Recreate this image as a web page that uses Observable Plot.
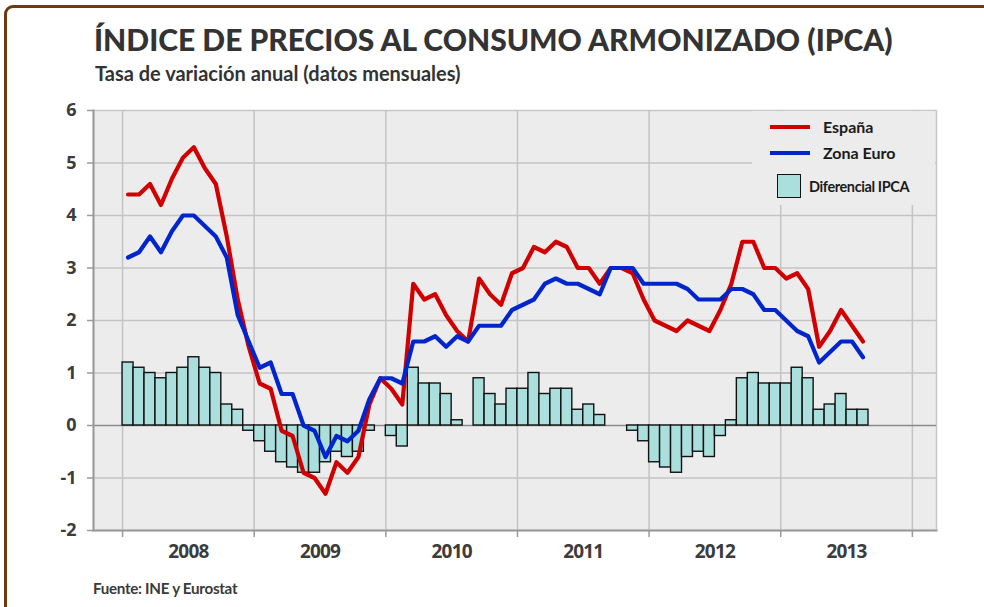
<!DOCTYPE html>
<html>
<head>
<meta charset="utf-8">
<script src="https://cdn.jsdelivr.net/npm/d3@7"></script>
<script src="https://cdn.jsdelivr.net/npm/@observablehq/plot@0.6"></script>
<style>
  html, body { margin: 0; padding: 0; background: #ffffff; }
  #wrap { position: relative; width: 984px; height: 607px; overflow: hidden; font-family: Lato, "DejaVu Sans", sans-serif; color: #333; }
  #wrap svg { position: absolute; left: 0; top: 0; background: transparent; }
  .abs { position: absolute; white-space: nowrap; }
  #border { left: 4px; top: 5px; width: 990px; height: 620px; box-sizing: border-box; border: 3px solid #6e3a0c; border-radius: 9px; }
  #title { left: 94px; top: 21px; font-size: 30px; font-weight: 900; line-height: 36px; color: #333; }
  #subtitle { left: 95px; top: 61px; font-size: 20px; font-weight: 700; line-height: 24px; color: #333; }
  #caption { left: 93px; top: 579px; font-size: 15.2px; font-weight: 700; line-height: 18px; color: #3a3a3a; letter-spacing: -0.3px; }
  #legend { left: 752px; top: 111px; width: 183px; height: 94px; background: #ececec; }
  .lg-line { position: absolute; width: 40px; height: 4px; }
  .lg-text { position: absolute; font-weight: 700; color: #1a1a1a; line-height: 20px; white-space: nowrap; }
  .lg-sw { position: absolute; width: 22px; height: 22px; background: #aadfdd; border: 1.5px solid #111; }
</style>
</head>
<body>
<div id="wrap">
  <div id="chart"></div>
  <div class="abs" id="border"></div>
  <div class="abs" id="title"></div>
  <div class="abs" id="subtitle"></div>
  <div class="abs" id="caption"></div>
  <div class="abs" id="legend"></div>
</div>
<script>
// ---- Data ----
const titleText = "ÍNDICE DE PRECIOS AL CONSUMO ARMONIZADO (IPCA)";
const subtitleText = "Tasa de variación anual (datos mensuales)";
const captionText = "Fuente: INE y Eurostat";
const seriesNames = ["España", "Zona Euro", "Diferencial IPCA"];

const firstMonth = "2008-01";
const yearLabels = ["2008", "2009", "2010", "2011", "2012", "2013"];
const yTicks = [-2, -1, 0, 1, 2, 3, 4, 5, 6];

const espana = [
  4.4, 4.4, 4.6, 4.2, 4.7, 5.1, 5.3, 4.9, 4.6, 3.6, 2.4, 1.5,
  0.8, 0.7, -0.1, -0.2, -0.9, -1.0, -1.3, -0.7, -0.9, -0.6, 0.4, 0.9,
  0.7, 0.4, 2.7, 2.4, 2.5, 2.1, 1.8, 1.6, 2.8, 2.5, 2.3, 2.9,
  3.0, 3.4, 3.3, 3.5, 3.4, 3.0, 3.0, 2.7, 3.0, 3.0, 2.9, 2.4,
  2.0, 1.9, 1.8, 2.0, 1.9, 1.8, 2.2, 2.7, 3.5, 3.5, 3.0, 3.0,
  2.8, 2.9, 2.6, 1.5, 1.8, 2.2, 1.9, 1.6
];
const zonaEuro = [
  3.2, 3.3, 3.6, 3.3, 3.7, 4.0, 4.0, 3.8, 3.6, 3.2, 2.1, 1.6,
  1.1, 1.2, 0.6, 0.6, 0.0, -0.1, -0.6, -0.2, -0.3, -0.1, 0.5, 0.9,
  0.9, 0.8, 1.6, 1.6, 1.7, 1.5, 1.7, 1.6, 1.9, 1.9, 1.9, 2.2,
  2.3, 2.4, 2.7, 2.8, 2.7, 2.7, 2.6, 2.5, 3.0, 3.0, 3.0, 2.7,
  2.7, 2.7, 2.7, 2.6, 2.4, 2.4, 2.4, 2.6, 2.6, 2.5, 2.2, 2.2,
  2.0, 1.8, 1.7, 1.2, 1.4, 1.6, 1.6, 1.3
];
const diferencial = [
  1.2, 1.1, 1.0, 0.9, 1.0, 1.1, 1.3, 1.1, 1.0, 0.4, 0.3, -0.1,
  -0.3, -0.5, -0.7, -0.8, -0.9, -0.9, -0.7, -0.5, -0.6, -0.5, -0.1, 0.0,
  -0.2, -0.4, 1.1, 0.8, 0.8, 0.6, 0.1, 0.0, 0.9, 0.6, 0.4, 0.7,
  0.7, 1.0, 0.6, 0.7, 0.7, 0.3, 0.4, 0.2, 0.0, 0.0, -0.1, -0.3,
  -0.7, -0.8, -0.9, -0.6, -0.5, -0.6, -0.2, 0.1, 0.9, 1.0, 0.8, 0.8,
  0.8, 1.1, 0.9, 0.3, 0.4, 0.6, 0.3, 0.3
];

// ---- Derived tables ----
const rows = espana.map((v, i) => ({i, esp: v, eur: zonaEuro[i], dif: diferencial[i]}));
const yearStarts = d3.range(yearLabels.length + 1).map(k => k * 12);
const yearCenters = yearLabels.map((_, k) => k * 12 + 6);

const colors = {esp: "#d10000", eur: "#0025cc", bar: "#aadfdd", grid: "#c4c4c4", axis: "#9a9a9a", bg: "#ececec"};

const chart = Plot.plot({
  width: 984,
  height: 607,
  marginLeft: 93,
  marginRight: 48,
  marginTop: 110,
  marginBottom: 77,
  style: {background: "transparent", overflow: "visible"},
  x: {type: "linear", domain: [-2.65, 74.2]},
  y: {domain: [-2, 6]},
  marks: [
    Plot.frame({fill: colors.bg, stroke: "#c8c8c8", strokeWidth: 1.5}),
    Plot.ruleY(yTicks.filter(d => d > -2 && d < 6 && d !== 0), {stroke: colors.grid, strokeWidth: 1.5}),
    Plot.ruleX(yearStarts, {stroke: colors.grid, strokeWidth: 1.5}),
    Plot.ruleY([0], {stroke: "#8a8a8a", strokeWidth: 1.5}),
    Plot.rect(rows.filter(d => d.dif !== 0), {
      x1: d => d.i, x2: d => d.i + 1, y1: 0, y2: "dif",
      fill: colors.bar, stroke: "#111", strokeWidth: 1.4
    }),
    Plot.line(rows, {x: d => d.i + 0.5, y: "esp", stroke: colors.esp, strokeWidth: 4.2, strokeLinejoin: "round"}),
    Plot.line(rows, {x: d => d.i + 0.5, y: "eur", stroke: colors.eur, strokeWidth: 4.2, strokeLinejoin: "round"}),
    Plot.frame({anchor: "left", stroke: colors.axis, strokeWidth: 2}),
    Plot.frame({anchor: "bottom", stroke: colors.axis, strokeWidth: 2}),
    Plot.axisY({ticks: yTicks, tickSize: 6, tickPadding: 11, tickFormat: d => String(d),
      fontSize: 18, fontWeight: 700, fill: "#3c3c3c", stroke: colors.axis, strokeWidth: 1.5, label: null}),
    Plot.axisX({ticks: yearStarts, tickSize: 7, tickFormat: () => "", stroke: colors.axis, strokeWidth: 1.5, label: null}),
    Plot.axisX({ticks: yearCenters, tickSize: 0, tickPadding: 14,
      tickFormat: d => yearLabels[Math.round((d - 6) / 12)],
      fontSize: 19, fontWeight: 700, fill: "#3c3c3c", label: null})
  ]
});
document.getElementById("chart").appendChild(chart);
chart.querySelectorAll("g[aria-label='x-axis tick label'] text").forEach(t => t.setAttribute("letter-spacing", "-0.8"));

document.getElementById("title").textContent = titleText;
document.getElementById("subtitle").textContent = subtitleText;
document.getElementById("caption").textContent = captionText;

const lg = document.getElementById("legend");
function add(html) { lg.insertAdjacentHTML("beforeend", html); }
// legend positions are relative to the legend box (left 752, top 111)
add(`<div class="lg-line" style="left:18px;top:14px;background:${colors.esp}"></div>`);
add(`<div class="lg-text" style="left:71px;top:6px;font-size:16px">${seriesNames[0]}</div>`);
add(`<div class="lg-line" style="left:18px;top:40px;background:${colors.eur}"></div>`);
add(`<div class="lg-text" style="left:71px;top:32px;font-size:16px">${seriesNames[1]}</div>`);
add(`<div class="lg-sw" style="left:25px;top:63px"></div>`);
add(`<div class="lg-text" style="left:57px;top:66px;font-size:14.5px;letter-spacing:-0.4px">${seriesNames[2]}</div>`);
</script>
</body>
</html>
